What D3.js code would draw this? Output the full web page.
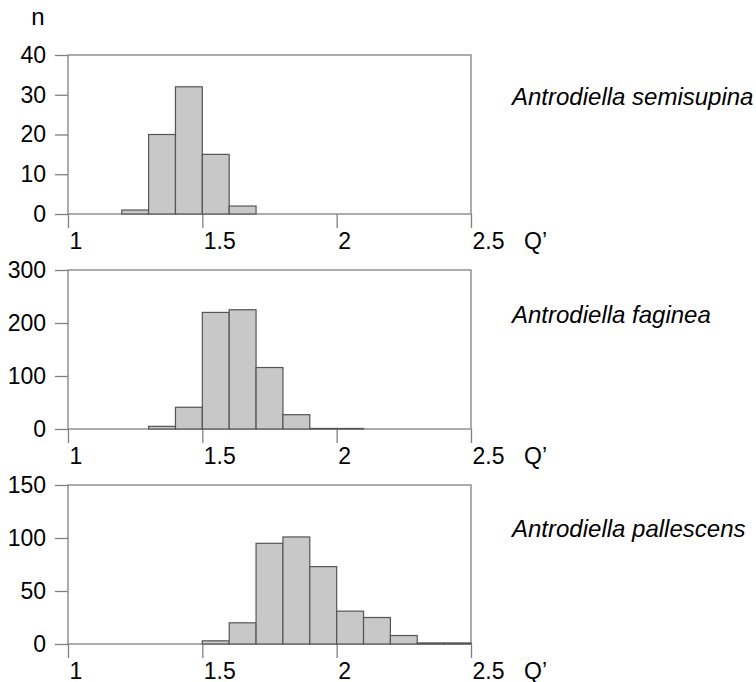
<!DOCTYPE html>
<html>
<head>
<meta charset="utf-8">
<script src="https://cdn.jsdelivr.net/npm/d3@7"></script>
<style>
  body { margin: 0; background: #fff; }
  svg { display: block; }
  text { font-family: Arial, "Liberation Sans", sans-serif; fill: #000; }
</style>
</head>
<body>
<script>
// bin lower edges (width 0.1) and counts
var binStart = [1.0, 1.1, 1.2, 1.3, 1.4, 1.5, 1.6, 1.7, 1.8, 1.9, 2.0, 2.1, 2.2, 2.3, 2.4];
var binWidth = 0.1;

var speciesNames = ["Antrodiella semisupina", "Antrodiella faginea", "Antrodiella pallescens"];

var semisupinaCounts = [0, 0, 1, 20, 32, 15, 2, 0, 0, 0, 0, 0, 0, 0, 0];
var fagineaCounts    = [0, 0, 0, 5, 41, 220, 225, 116, 27, 1, 1, 0, 0, 0, 0];
var pallescensCounts = [0, 0, 0, 0, 0, 3, 20, 95, 101, 73, 31, 25, 8, 1, 1];

var yMaxes = [40, 300, 150];
var yTickSets = [[0, 10, 20, 30, 40], [0, 100, 200, 300], [0, 50, 100, 150]];
var xTicks = [1, 1.5, 2, 2.5];

var allCounts = [semisupinaCounts, fagineaCounts, pallescensCounts];

var width = 756, height = 682;
var left = 68, right = 471;
var panelTop = 55, panelHeight = 159, panelStep = 215;
var tickLen = 13;
var axisColour = "#808080";

var svg = d3.select("body").append("svg")
    .attr("width", width)
    .attr("height", height);

var x = d3.scaleLinear().domain([1, 2.5]).range([left, right]);

svg.append("text")
    .attr("x", 38)
    .attr("y", 25)
    .attr("text-anchor", "middle")
    .style("font-size", "24px")
    .text("n");

allCounts.forEach(function(counts, i) {
    var top = panelTop + i * panelStep;
    var y = d3.scaleLinear().domain([0, yMaxes[i]]).range([top + panelHeight, top]);
    var g = svg.append("g").attr("class", "panel");

    // frame: top, left, right edges plus the zero line
    g.append("rect")
        .attr("x", x(1))
        .attr("y", y(yMaxes[i]))
        .attr("width", x(2.5) - x(1))
        .attr("height", y(0) - y(yMaxes[i]))
        .attr("fill", "none")
        .attr("stroke", axisColour)
        .attr("stroke-width", 1.3);

    // y axis
    var yAxis = d3.axisLeft(y)
        .tickValues(yTickSets[i])
        .tickSize(tickLen)
        .tickPadding(9)
        .tickFormat(d3.format("d"));
    var ya = g.append("g")
        .attr("transform", "translate(" + left + ",0)")
        .call(yAxis);
    ya.select(".domain").remove();
    ya.selectAll("line").attr("stroke", axisColour).attr("stroke-width", 1.3);
    ya.selectAll("text")
        .style("font-size", "23px")
        .attr("font-family", null);

    // x axis, labels start at the tick
    var xAxis = d3.axisBottom(x)
        .tickValues(xTicks)
        .tickSize(tickLen + 1)
        .tickPadding(5)
        .tickFormat(function(d) { return String(d); });
    var xa = g.append("g")
        .attr("transform", "translate(0," + y(0) + ")")
        .call(xAxis);
    xa.select(".domain").remove();
    xa.selectAll("line").attr("stroke", axisColour).attr("stroke-width", 1.3);
    xa.selectAll("text")
        .attr("text-anchor", "start")
        .attr("x", 1)
        .style("font-size", "23px")
        .attr("font-family", null);

    // bars
    var bars = binStart.map(function(b, j) { return { x0: b, x1: b + binWidth, n: counts[j] }; })
        .filter(function(d) { return d.n > 0; });

    g.selectAll(".bar")
        .data(bars)
        .enter()
        .append("rect")
        .attr("class", "bar")
        .attr("x", function(d) { return x(d.x0); })
        .attr("y", function(d) { return y(d.n); })
        .attr("width", function(d) { return x(d.x1) - x(d.x0); })
        .attr("height", function(d) { return y(0) - y(d.n); })
        .attr("fill", "#c8c8c8")
        .attr("stroke", "#555")
        .attr("stroke-width", 1.2);

    // Q' label
    g.append("text")
        .attr("x", 524)
        .attr("y", y(0) + 35)
        .style("font-size", "23px")
        .text("Q\u2019");

    // species label
    g.append("text")
        .attr("x", 512)
        .attr("y", top + [50, 53, 52][i])
        .style("font-size", "24px")
        .style("font-style", "italic")
        .text(speciesNames[i]);
});
</script>
</body>
</html>
